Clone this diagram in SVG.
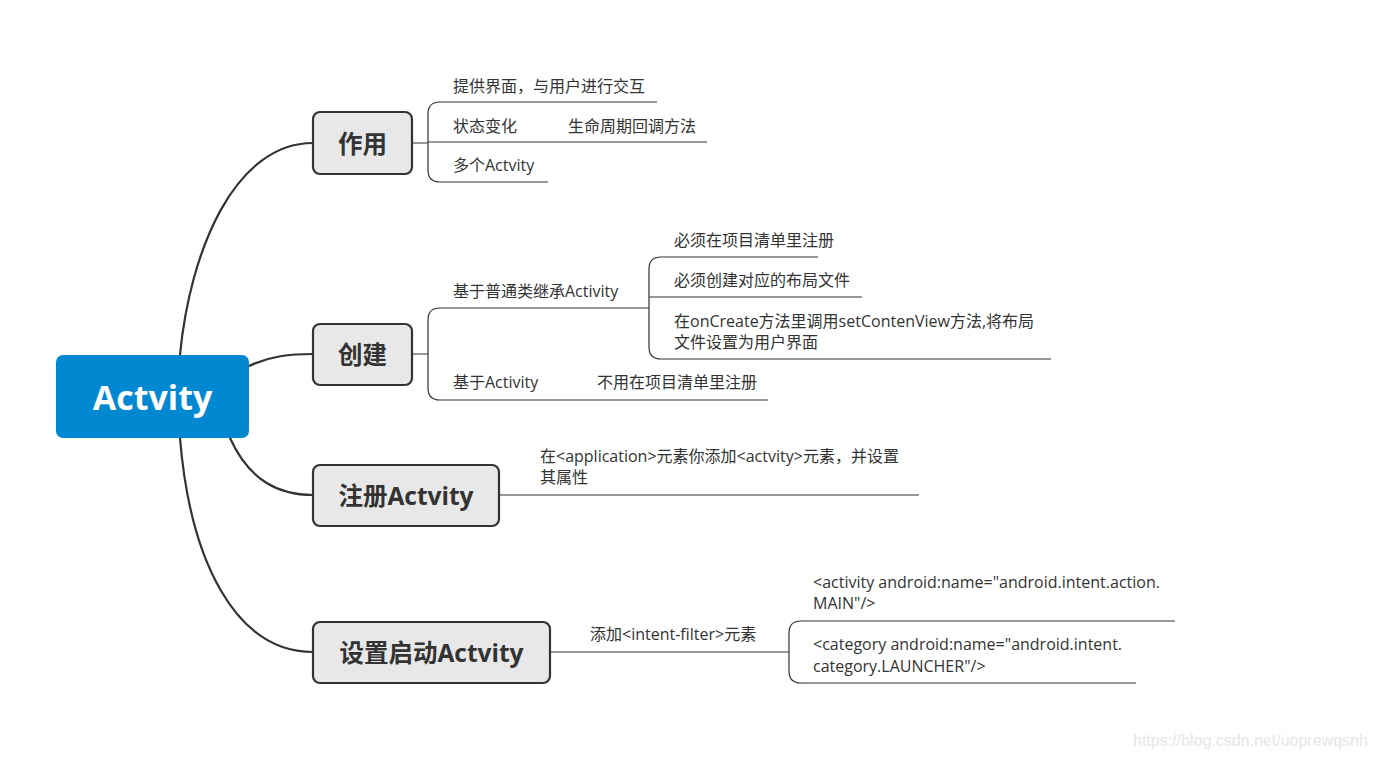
<svg xmlns="http://www.w3.org/2000/svg" width="1374" height="759" viewBox="0 0 1374 759">
<style>
.curve{fill:none;stroke:#333;stroke-width:2.2;stroke-linecap:round}
.leaf{fill:none;stroke:#333;stroke-width:1.2}
.box{fill:#e8e8e8;stroke:#333;stroke-width:2.2}
.lbl{font-family:"Open Sans","Noto Sans CJK SC",sans-serif;font-weight:bold;font-size:24.5px;fill:#333;text-anchor:middle;dominant-baseline:central}
.t{font-family:"Open Sans","Noto Sans CJK SC",sans-serif;font-size:16px;fill:#333}
</style>
<rect width="1374" height="759" fill="#fff"/>
<g id="connectors">
<path class="curve" d="M180,355 C190,250 235,143 313,143"/>
<path class="curve" d="M249,366 C270,356 290,354 313,354"/>
<path class="curve" d="M230,438 C250,482 280,495 313,495"/>
<path class="curve" d="M180,438 C190,560 235,652 313,652"/>
<path class="leaf" d="M412,143 H428 M440,102 Q428,102 428,114 V170 Q428,182 440,182 M440,102 H657 M428,142 H707 M440,182 H548"/>
<path class="leaf" d="M412,354 H428 M440,308 Q428,308 428,320 V388 Q428,400 440,400 M440,308 H649 M440,400 H768"/>
<path class="leaf" d="M661,257 Q649,257 649,269 V347 Q649,359 661,359 M661,257 H818 M649,297 H862 M661,359 H1051"/>
<path class="leaf" d="M499,495 H919"/>
<path class="leaf" d="M550,652 H789 M801,621 Q789,621 789,633 V671 Q789,683 801,683 M801,621 H1175 M801,683 H1136"/>
</g>
<g id="root">
<rect x="56" y="355" width="193" height="83" rx="7" fill="#0288d1"/>
<text x="152.5" y="397" font-family="'Open Sans',sans-serif" font-weight="bold" font-size="34" fill="#fff" text-anchor="middle" dominant-baseline="central">Actvity</text>
</g>
<g id="node-zuoyong">
<rect class="box" x="313" y="112" width="99" height="62" rx="7"/>
<text class="lbl" x="362.5" y="143">作用</text>
<text class="t" x="453" y="92">提供界面，与用户进行交互</text>
<text class="t" x="453" y="132">状态变化</text>
<text class="t" x="568" y="132">生命周期回调方法</text>
<text class="t" x="453" y="171">多个Actvity</text>
</g>
<g id="node-chuangjian">
<rect class="box" x="313" y="324" width="99" height="61" rx="7"/>
<text class="lbl" x="362.5" y="354.5">创建</text>
<text class="t" x="453" y="297">基于普通类继承Activity</text>
<text class="t" x="674" y="246">必须在项目清单里注册</text>
<text class="t" x="674" y="286">必须创建对应的布局文件</text>
<text class="t" x="674" y="327">在onCreate方法里调用setContenView方法,将布局</text>
<text class="t" x="674" y="348">文件设置为用户界面</text>
<text class="t" x="453" y="388">基于Activity</text>
<text class="t" x="597" y="388">不用在项目清单里注册</text>
</g>
<g id="node-zhuce">
<rect class="box" x="313" y="465" width="186" height="61" rx="7"/>
<text class="lbl" x="406" y="495.5">注册Actvity</text>
<text class="t" x="540" y="462">在&lt;application&gt;元素你添加&lt;actvity&gt;元素，并设置</text>
<text class="t" x="540" y="483">其属性</text>
</g>
<g id="node-shezhi">
<rect class="box" x="313" y="622" width="237" height="61" rx="7"/>
<text class="lbl" x="431.5" y="652.5">设置启动Actvity</text>
<text class="t" x="590" y="640">添加&lt;intent-filter&gt;元素</text>
<text class="t" x="813" y="588">&lt;activity android:name="android.intent.action.</text>
<text class="t" x="813" y="609">MAIN"/&gt;</text>
<text class="t" x="813" y="650">&lt;category android:name="android.intent.</text>
<text class="t" x="813" y="672">category.LAUNCHER"/&gt;</text>
</g>
<text x="1133" y="746" font-family="'Liberation Sans',sans-serif" font-size="16" fill="#e6e6e6">https://blog.csdn.net/uoprewqsnh</text>
</svg>
